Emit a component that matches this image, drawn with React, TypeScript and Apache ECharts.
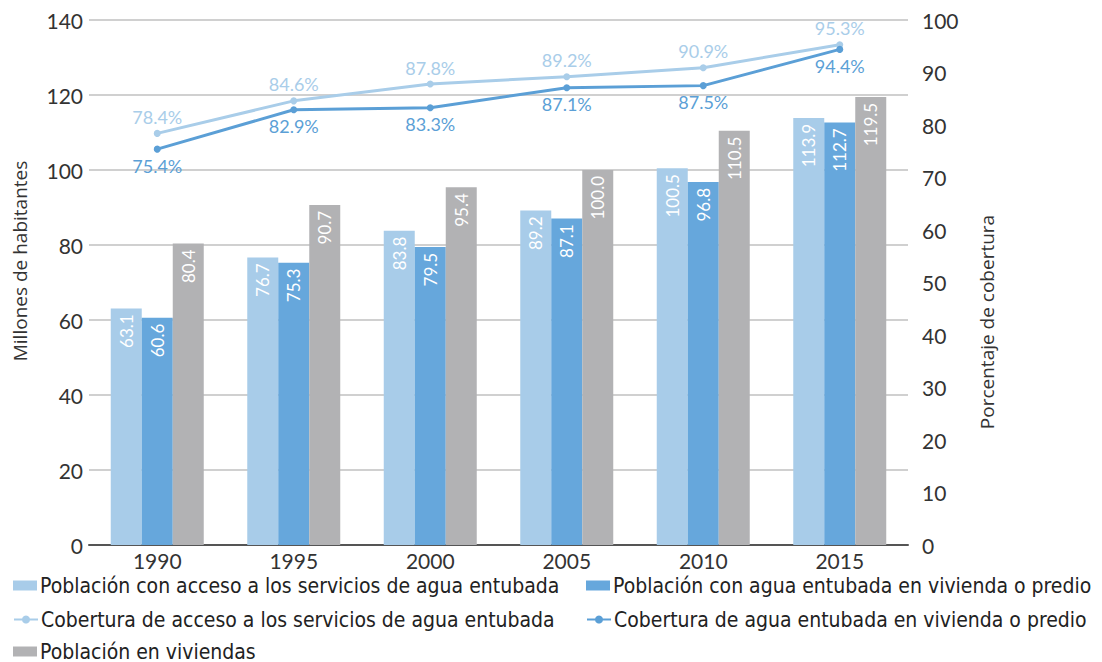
import React, { useEffect, useRef } from "react";
import * as echarts from "echarts";

const years = ["1990", "1995", "2000", "2005", "2010", "2015"];
const popAcceso = [63.1, 76.7, 83.8, 89.2, 100.5, 113.9];
const popVivienda = [60.6, 75.3, 79.5, 87.1, 96.8, 112.7];
const popTotal = [80.4, 90.7, 95.4, 100.0, 110.5, 119.5];
const cobAcceso = [78.4, 84.6, 87.8, 89.2, 90.9, 95.3];
const cobVivienda = [75.4, 82.9, 83.3, 87.1, 87.5, 94.4];

const leftAxisName = "Millones de habitantes";
const rightAxisName = "Porcentaje de cobertura";

const names = {
  popAcceso: "Población con acceso a los servicios de agua entubada",
  popVivienda: "Población con agua entubada en vivienda o predio",
  cobAcceso: "Cobertura de acceso a los servicios de agua entubada",
  cobVivienda: "Cobertura de agua entubada en vivienda o predio",
  popTotal: "Población en viviendas",
};

const cLight = "#a8cce9";
const cBlue = "#66a7dc";
const cGray = "#b2b2b4";
const cLineLight = "#a9cde9";
const cLineDark = "#5b9fd6";

const FONT = "Lato, 'Open Sans', sans-serif";
const NAME_FONT = "'Open Sans', 'Noto Sans', sans-serif";
const LEG_FONT = "'Liberation Sans Narrow', 'DejaVu Sans Condensed', sans-serif";

export default function App() {
  const ref = useRef<HTMLDivElement>(null);
  useEffect(() => {
    document.body.style.margin = "0";
    const chart = echarts.init(ref.current!, null, { renderer: "svg" });
    const barLabel = {
      show: true,
      position: "insideTop",
      rotate: 90,
      align: "right",
      verticalAlign: "middle",
      distance: 6,
      color: "#ffffff",
      fontSize: 17,
      fontFamily: FONT,
      formatter: (p: any) => Number(p.value).toFixed(1),
    };
    const legendBase = {
      orient: "horizontal",
      itemWidth: 24,
      itemHeight: 10,
      itemGap: 4,
      textStyle: { fontFamily: LEG_FONT, fontSize: 21, color: "#222", padding: [0, 0, 0, -2] },
    };
    chart.setOption({
      animation: false,
      backgroundColor: "#ffffff",
      grid: { left: 89, right: 194, top: 20, bottom: 117 },
      graphic: [
        {
          type: "text",
          x: 20,
          y: 261,
          rotation: Math.PI / 2,
          style: {
            text: leftAxisName,
            fontFamily: NAME_FONT,
            fontSize: 19,
            fill: "#333",
            align: "center",
            verticalAlign: "middle",
          },
        },
        {
          type: "text",
          x: 987,
          y: 322,
          rotation: Math.PI / 2,
          style: {
            text: rightAxisName,
            fontFamily: NAME_FONT,
            fontSize: 19,
            fill: "#333",
            align: "center",
            verticalAlign: "middle",
          },
        },
      ],
      legend: [
        { ...legendBase, left: 8, top: 570, icon: "rect", data: [names.popAcceso] },
        { ...legendBase, left: 581, top: 570, icon: "rect", data: [names.popVivienda] },
        { ...legendBase, left: 8, top: 604, data: [names.cobAcceso] },
        { ...legendBase, left: 581, top: 604, data: [names.cobVivienda] },
        { ...legendBase, left: 8, top: 636, icon: "rect", data: [names.popTotal] },
      ],
      xAxis: {
        type: "category",
        data: years,
        axisLine: { lineStyle: { color: "#555", width: 2 } },
        axisTick: { show: false },
        axisLabel: { fontFamily: FONT, fontSize: 21, color: "#333", margin: 5 },
      },
      yAxis: [
        {
          type: "value",
          min: 0,
          max: 140,
          interval: 20,
          axisLabel: { fontFamily: FONT, fontSize: 21, color: "#333", margin: 6 },
          splitLine: { lineStyle: { color: "#d0d0d0", width: 2 } },
          axisLine: { show: false },
          axisTick: { show: false },
        },
        {
          type: "value",
          min: 0,
          max: 100,
          interval: 10,
          position: "right",
          axisLabel: { fontFamily: FONT, fontSize: 21, color: "#333", margin: 14 },
          splitLine: { show: false },
          axisLine: { show: false },
          axisTick: { show: false },
        },
      ],
      series: [
        {
          name: names.popAcceso,
          type: "bar",
          data: popAcceso,
          barWidth: 31,
          barGap: "0%",
          itemStyle: { color: cLight },
          label: barLabel,
        },
        {
          name: names.popVivienda,
          type: "bar",
          data: popVivienda,
          barWidth: 31,
          barGap: "0%",
          itemStyle: { color: cBlue },
          label: barLabel,
        },
        {
          name: names.popTotal,
          type: "bar",
          data: popTotal,
          barWidth: 31,
          barGap: "0%",
          itemStyle: { color: cGray },
          label: barLabel,
        },
        {
          name: names.cobAcceso,
          type: "line",
          yAxisIndex: 1,
          data: cobAcceso,
          symbol: "circle",
          symbolSize: 7,
          lineStyle: { color: cLineLight, width: 3 },
          itemStyle: { color: cLineLight },
          label: {
            show: true,
            position: "top",
            distance: 4,
            color: cLineLight,
            fontSize: 18,
            fontFamily: FONT,
            formatter: (p: any) => Number(p.value).toFixed(1) + "%",
          },
          z: 5,
        },
        {
          name: names.cobVivienda,
          type: "line",
          yAxisIndex: 1,
          data: cobVivienda,
          symbol: "circle",
          symbolSize: 7,
          lineStyle: { color: cLineDark, width: 3 },
          itemStyle: { color: cLineDark },
          label: {
            show: true,
            position: "bottom",
            distance: 4,
            color: cLineDark,
            fontSize: 18,
            fontFamily: FONT,
            formatter: (p: any) => Number(p.value).toFixed(1) + "%",
          },
          z: 6,
        },
      ],
    });
    return () => chart.dispose();
  }, []);
  return <div ref={ref} style={{ width: 1102, height: 662, position: "absolute", left: 0, top: 0 }} />;
}
